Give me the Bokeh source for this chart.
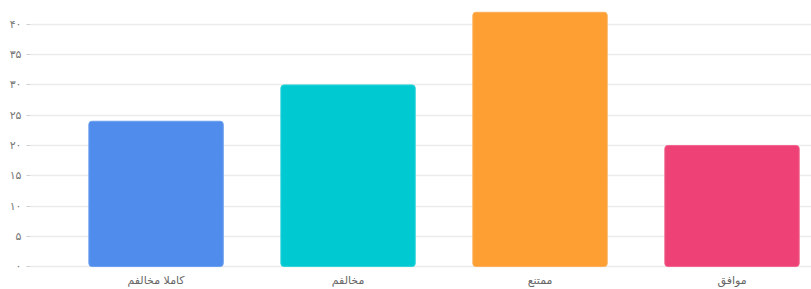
from bokeh.plotting import figure
from bokeh.models import Range1d, FixedTicker, ColumnDataSource
from bokeh.embed import file_html
from bokeh.resources import INLINE

categories = ["کاملا مخالفم", "مخالفم", "ممتنع", "موافق"]
values = [24, 30, 42, 20]
colors = ["#4f8ceb", "#00c9d1", "#fd9f33", "#ee4176"]
edge_colors = ["#6a9ff0", "#33d4da", "#fdb05a", "#f26690"]
y_ticks = [0, 5, 10, 15, 20, 25, 30, 35, 40]
y_tick_labels = ["۰", "۵", "۱۰", "۱۵", "۲۰", "۲۵", "۳۰", "۳۵", "۴۰"]

xs = [i + 0.5 for i in range(len(categories))]
src = ColumnDataSource(dict(x=xs, top=values, color=colors, edge=edge_colors))

p = figure(width=811, height=289, output_backend="svg", toolbar_location=None,
           x_range=Range1d(-0.154, 3.914), y_range=Range1d(-0.49, 43.95),
           min_border_left=30, min_border_right=0, min_border_top=0, min_border_bottom=0)
p.outline_line_color = None
p.background_fill_color = "white"

p.vbar(x="x", top="top", bottom=0, width=0.70, source=src,
       fill_color="color", line_color="edge", line_width=1, border_radius=3)

p.xgrid.grid_line_color = None
p.ygrid.grid_line_color = "#ebebeb"
p.ygrid.grid_line_width = 1.5
p.ygrid.ticker = FixedTicker(ticks=y_ticks)

p.yaxis.ticker = FixedTicker(ticks=y_ticks)
p.yaxis.major_label_overrides = {t: l for t, l in zip(y_ticks, y_tick_labels)}
p.yaxis.axis_line_color = None
p.yaxis.major_tick_in = 0
p.yaxis.major_tick_out = 4
p.yaxis.major_tick_line_color = "#d0d0d0"
p.yaxis.minor_tick_line_color = None
p.yaxis.major_label_standoff = 5
p.yaxis.major_label_text_font = "DejaVu Sans"
p.yaxis.major_label_text_font_size = "11px"
p.yaxis.major_label_text_color = "#777777"

p.xaxis.ticker = FixedTicker(ticks=xs)
p.xaxis.major_label_overrides = {x: c for x, c in zip(xs, categories)}
p.xaxis.axis_line_color = None
p.xaxis.major_tick_in = 0
p.xaxis.major_tick_out = 0
p.xaxis.major_tick_line_color = None
p.xaxis.minor_tick_line_color = None
p.xaxis.major_label_standoff = 4
p.xaxis.major_label_text_font = "DejaVu Sans"
p.xaxis.major_label_text_font_size = "11px"
p.xaxis.major_label_text_color = "#666666"

open("out.html", "w").write(file_html(p, INLINE))
